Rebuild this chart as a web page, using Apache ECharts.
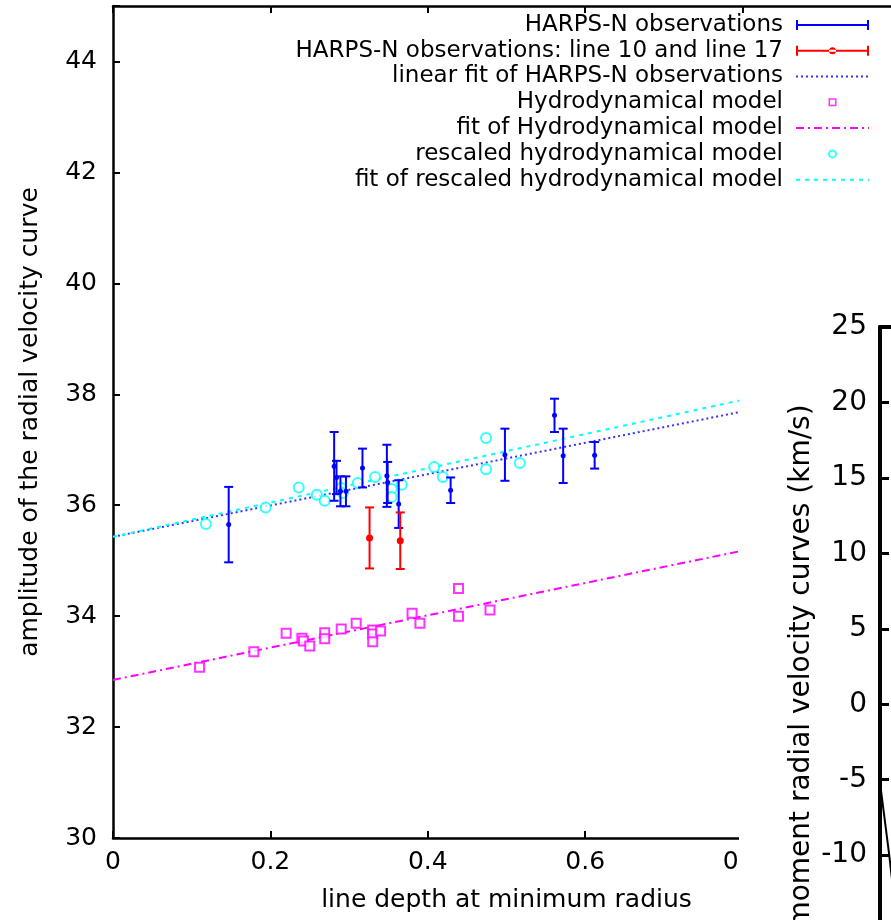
<!DOCTYPE html>
<html>
<head>
<meta charset="utf-8">
<script src="https://cdn.jsdelivr.net/npm/echarts@6/dist/echarts.min.js"></script>
<style>
html,body{margin:0;padding:0;background:#fff;}
#chart{width:891px;height:920px;}
</style>
</head>
<body>
<div id="chart"></div>
<script>
// ---------- data ----------
const legendNames = [
  'HARPS-N observations',
  'HARPS-N observations: line 10 and line 17',
  'linear fit of HARPS-N observations',
  'Hydrodynamical model',
  'fit of Hydrodynamical model',
  'rescaled hydrodynamical model',
  'fit of rescaled hydrodynamical model'
];
const xTicks = [0, 0.2, 0.4, 0.6, 0.8, 1];
const yTicks = [30, 32, 34, 36, 38, 40, 42, 44];
const insetTicks = [-10, -5, 0, 5, 10, 15, 20, 25];

// HARPS-N observations (x, amplitude, error)
const obsX   = [0.147, 0.281, 0.284, 0.289, 0.296, 0.317, 0.348, 0.349, 0.363, 0.429, 0.498, 0.561, 0.572, 0.612];
const obsY   = [35.65, 36.70, 36.50, 36.25, 36.25, 36.67, 36.53, 36.41, 36.02, 36.27, 36.91, 37.62, 36.89, 36.90];
const obsErr = [0.68, 0.62, 0.30, 0.27, 0.27, 0.35, 0.56, 0.37, 0.43, 0.23, 0.47, 0.30, 0.49, 0.24];

// line 10 and line 17
const redX   = [0.326, 0.365];
const redY   = [35.41, 35.36];
const redErr = [0.55, 0.51];

// Hydrodynamical model
const hydroX = [0.110, 0.179, 0.220, 0.240, 0.242, 0.250, 0.269, 0.269, 0.290, 0.309, 0.330, 0.330, 0.330, 0.340, 0.380, 0.390, 0.439, 0.439, 0.479];
const hydroY = [33.08, 33.36, 33.69, 33.60, 33.55, 33.46, 33.70, 33.59, 33.77, 33.87, 33.75, 33.68, 33.54, 33.73, 34.05, 33.87, 34.50, 34.00, 34.11];

// rescaled hydrodynamical model
const rescX = [0.118, 0.194, 0.236, 0.259, 0.269, 0.290, 0.292, 0.311, 0.333, 0.354, 0.354, 0.367, 0.408, 0.419, 0.474, 0.474, 0.517];
const rescY = [35.66, 35.96, 36.32, 36.19, 36.08, 36.31, 36.22, 36.40, 36.51, 36.29, 36.15, 36.37, 36.69, 36.51, 37.21, 36.65, 36.76];

// fitted lines (end points)
const fitX      = [0, 0.8];
const obsFitY   = [35.43, 37.69];
const hydroFitY = [32.85, 35.18];
const rescFitY  = [35.43, 37.90];

// inset (second figure, partly visible)
const insetX = [0.0, 0.04, 0.07];
const insetY = [-5.2, -10.0, -14.0];

// ---------- chart ----------
const FONT = 'DejaVu Sans';
const chart = echarts.init(document.getElementById('chart'), null, {renderer: 'canvas'});

function errBar(color, r) {
  return function (params, api) {
    const x = api.value(0), y = api.value(1), e = api.value(2);
    const t = api.coord([x, y + e]), b = api.coord([x, y - e]), c = api.coord([x, y]);
    const hw = 4.5;
    const st = {stroke: color, lineWidth: 2};
    return {
      type: 'group',
      children: [
        {type: 'line', shape: {x1: t[0], y1: t[1], x2: b[0], y2: b[1]}, style: st},
        {type: 'line', shape: {x1: t[0] - hw, y1: t[1], x2: t[0] + hw, y2: t[1]}, style: st},
        {type: 'line', shape: {x1: b[0] - hw, y1: b[1], x2: b[0] + hw, y2: b[1]}, style: st},
        {type: 'circle', shape: {cx: c[0], cy: c[1], r: r}, style: {fill: color}}
      ]
    };
  };
}
const zip2 = (a, b) => a.map((v, i) => [v, b[i]]);
const zip3 = (a, b, c) => a.map((v, i) => [v, b[i], c[i]]);

const iconBar = 'path://M0,0h2v10h-2zM0,4h73v2h-73zM71,0h2v10h-2z';
const iconBarDot = 'path://M0,0h2v10h-2zM0,4h73v2h-73zM71,0h2v10h-2zM33,5a3.5,3.5 0 1,0 7,0a3.5,3.5 0 1,0 -7,0z';
const iconSquare = 'path://M0,0L0.01,0M73,10L72.99,10M32.5,1h8v8h-8zM34,2.5v5h5v-5z';
const iconCircle = 'path://M0,0L0.01,0M73,10L72.99,10M32,5a4.5,4.5 0 1,0 9,0a4.5,4.5 0 1,0 -9,0zM34,5a2.5,2.5 0 1,1 5,0a2.5,2.5 0 1,1 -5,0z';
const noDot = {color: 'rgba(0,0,0,0)', borderWidth: 0, opacity: 0};

const option = {
  animation: false,
  backgroundColor: '#fff',
  textStyle: {fontFamily: FONT},
  legend: {
    orient: 'vertical',
    right: 16,
    top: 7,
    align: 'right',
    itemWidth: 73,
    itemHeight: 10,
    itemGap: 0,
    itemStyle: {borderWidth: 0},
    textStyle: {fontFamily: FONT, fontSize: 23, color: '#000', lineHeight: 25.8, padding: [0, 8, 0, 0]},
    data: [
      {name: legendNames[0], icon: iconBar},
      {name: legendNames[1], icon: iconBarDot},
      {name: legendNames[2], itemStyle: noDot},
      {name: legendNames[3], icon: iconSquare},
      {name: legendNames[4], itemStyle: noDot},
      {name: legendNames[5], icon: iconCircle},
      {name: legendNames[6], itemStyle: noDot}
    ]
  },
  grid: [
    {left: 113, top: 6, width: 787, height: 832, outerBoundsMode: 'none', containLabel: false},
    {left: 880, top: 327, width: 231, height: 679, outerBoundsMode: 'none', containLabel: false}
  ],
  xAxis: [
    {
      gridIndex: 0, type: 'value', min: 0, max: 1, interval: 0.2,
      name: 'line depth at minimum radius', nameLocation: 'middle', nameGap: 50,
      nameTextStyle: {fontFamily: FONT, fontSize: 25, color: '#000'},
      axisLine: {lineStyle: {color: '#000', width: 2.5}},
      axisTick: {inside: true, length: 7, lineStyle: {color: '#000', width: 2}},
      axisLabel: {fontFamily: FONT, fontSize: 25, color: '#000', margin: 12,
        formatter: v => String(xTicks.find(t => Math.abs(t - v) < 1e-9) ?? v)},
      splitLine: {show: false}
    },
    {
      gridIndex: 0, type: 'value', position: 'top', min: 0, max: 1, interval: 0.2,
      axisLine: {lineStyle: {color: '#000', width: 2.5}},
      axisTick: {inside: true, length: 7, lineStyle: {color: '#000', width: 2}},
      axisLabel: {show: false},
      splitLine: {show: false}
    },
    {
      gridIndex: 1, type: 'value', min: 0, max: 1, show: false
    },
    {
      gridIndex: 1, type: 'value', position: 'top', min: 0, max: 1, z: 60,
      axisLine: {lineStyle: {color: '#000', width: 4}},
      axisTick: {show: false}, axisLabel: {show: false}, splitLine: {show: false}
    }
  ],
  yAxis: [
    {
      gridIndex: 0, type: 'value', min: 30, max: 45, interval: 2,
      name: 'amplitude of the radial velocity curve', nameLocation: 'middle', nameGap: 70,
      nameTextStyle: {fontFamily: FONT, fontSize: 25, color: '#000'},
      axisLine: {lineStyle: {color: '#000', width: 2.5}},
      axisTick: {inside: true, length: 7, lineStyle: {color: '#000', width: 2}},
      axisLabel: {fontFamily: FONT, fontSize: 25, color: '#000', margin: 16,
        formatter: v => (yTicks.indexOf(v) >= 0 ? String(v) : '')},
      splitLine: {show: false}
    },
    {
      gridIndex: 1, type: 'value', min: -20, max: 25, interval: 5, z: 60,
      name: 'moment radial velocity curves (km/s)', nameLocation: 'middle', nameGap: 64,
      nameTextStyle: {fontFamily: FONT, fontSize: 28, color: '#000'},
      axisLine: {lineStyle: {color: '#000', width: 4}},
      axisTick: {inside: true, length: 9, lineStyle: {color: '#000', width: 3}},
      axisLabel: {fontFamily: FONT, fontSize: 28, color: '#000', margin: 13,
        formatter: v => (insetTicks.indexOf(v) >= 0 ? String(v) : '')},
      splitLine: {show: false}
    }
  ],
  graphic: [
    {type: 'rect', z: 50, shape: {x: 739, y: 310, width: 152, height: 610}, style: {fill: '#fff'}}
  ],
  series: [
    {
      name: legendNames[2], type: 'line', xAxisIndex: 0, yAxisIndex: 0,
      data: zip2(fitX, obsFitY), symbol: 'none', z: 3,
      lineStyle: {color: '#3333ff', width: 2, type: [2, 3]}, itemStyle: {color: '#3333ff'}
    },
    {
      name: legendNames[6], type: 'line', xAxisIndex: 0, yAxisIndex: 0,
      data: zip2(fitX, rescFitY), symbol: 'none', z: 3,
      lineStyle: {color: '#00ffff', width: 2, type: [4, 5]}, itemStyle: {color: '#00ffff'}
    },
    {
      name: legendNames[4], type: 'line', xAxisIndex: 0, yAxisIndex: 0,
      data: zip2(fitX, hydroFitY), symbol: 'none', z: 3,
      lineStyle: {color: '#ff00ff', width: 2, type: [8, 4, 2, 4]}, itemStyle: {color: '#ff00ff'}
    },
    {
      name: legendNames[3], type: 'scatter', xAxisIndex: 0, yAxisIndex: 0,
      data: zip2(hydroX, hydroY), symbol: 'emptyRect', symbolSize: 9, z: 4,
      itemStyle: {color: '#ff00ff', borderColor: '#ff00ff', borderWidth: 1.6}
    },
    {
      name: legendNames[5], type: 'scatter', xAxisIndex: 0, yAxisIndex: 0,
      data: zip2(rescX, rescY), symbol: 'emptyCircle', symbolSize: 10, z: 4,
      itemStyle: {color: '#00ffff', borderColor: '#00ffff', borderWidth: 2.2}
    },
    {
      name: legendNames[0], type: 'custom', xAxisIndex: 0, yAxisIndex: 0,
      data: zip3(obsX, obsY, obsErr), encode: {x: 0, y: 1}, z: 5,
      itemStyle: {color: '#0000ff'},
      renderItem: errBar('#0000ff', 2.5)
    },
    {
      name: legendNames[1], type: 'custom', xAxisIndex: 0, yAxisIndex: 0,
      data: zip3(redX, redY, redErr), encode: {x: 0, y: 1}, z: 5,
      itemStyle: {color: '#ff0000'},
      renderItem: errBar('#ff0000', 3.5)
    },
    {
      type: 'line', xAxisIndex: 2, yAxisIndex: 1, z: 60,
      data: zip2(insetX, insetY), symbol: 'none',
      lineStyle: {color: '#000', width: 2}
    }
  ]
};
chart.setOption(option);
</script>
</body>
</html>
